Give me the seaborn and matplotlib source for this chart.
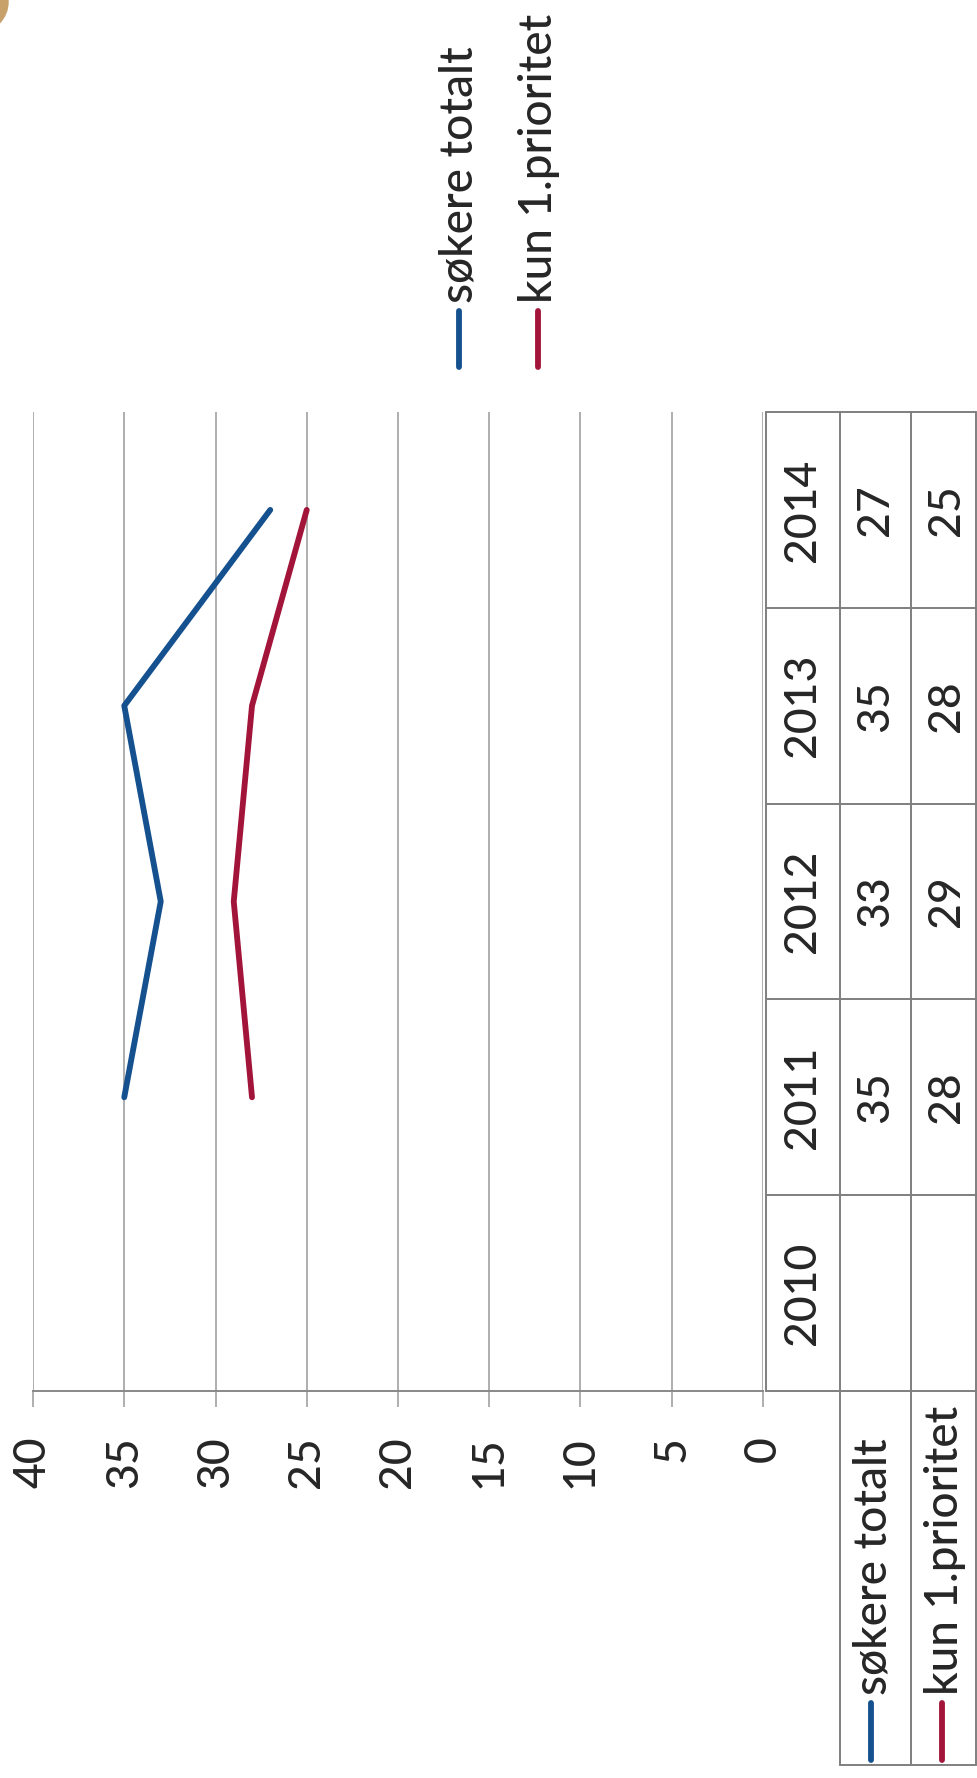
import numpy as np
import pandas as pd
import matplotlib.pyplot as plt
import seaborn as sns
from matplotlib.lines import Line2D
from matplotlib.patches import Ellipse

# Data
years = ["2010", "2011", "2012", "2013", "2014"]
sokere_totalt = [np.nan, 35, 33, 35, 27]
kun_1_prioritet = [np.nan, 28, 29, 28, 25]
series_names = ["søkere totalt", "kun 1.prioritet"]
colors = ["#15508f", "#a3143a"]
value_ticks = [0, 5, 10, 15, 20, 25, 30, 35, 40]

sns.set_style("white")
plt.rcParams["font.family"] = ["Lato", "DejaVu Sans"]
plt.rcParams["font.weight"] = 500

W, H = 978, 1778


def fx(x):
    return x / W


def fy(y):
    return 1 - y / H


fig = plt.figure(figsize=(W / 100, H / 100), dpi=100)

# plot area (chart is rotated 90 degrees: value axis runs horizontally)
left, right, top, bottom = 33, 763, 412, 1391
ax = fig.add_axes([fx(left), fy(bottom), fx(right - left), (bottom - top) / H])

df = pd.DataFrame({
    "år": years * 2,
    "serie": [series_names[0]] * 5 + [series_names[1]] * 5,
    "verdi": sokere_totalt + kun_1_prioritet,
})
df["pos"] = df["år"].map({y: i for i, y in enumerate(years)})

sns.lineplot(data=df, x="verdi", y="pos", hue="serie", palette=colors,
             orient="y", estimator=None, legend=False, lw=4.2,
             solid_capstyle="round", ax=ax)

ax.set_xlim(40, 0)
ax.set_ylim(-0.5, len(years) - 0.5)
ax.set_xticks(value_ticks)
ax.set_xticklabels([str(v) for v in value_ticks], rotation=90, fontsize=32)
ax.set_yticks([])
ax.set_xlabel("")
ax.set_ylabel("")
ax.grid(axis="x", color="#999999", lw=1.1)
ax.grid(axis="y", visible=False)
for s in ["top", "left", "right"]:
    ax.spines[s].set_visible(False)
ax.spines["bottom"].set_color("#888888")
ax.spines["bottom"].set_linewidth(1.4)
ax.tick_params(axis="x", direction="out", length=11.5, width=1.1,
               color="#999999", pad=21, bottom=True)

# data table
line_kw = dict(color="#7f7f7f", lw=1.4)
tab_left, row1, row2, tab_right, tab_bottom = 766, 840, 911, 976, 1765
cell_h = (bottom - top) / len(years)


def hline(x0, x1, y):
    fig.add_artist(Line2D([fx(x0), fx(x1)], [fy(y), fy(y)], **line_kw))


def vline(x, y0, y1):
    fig.add_artist(Line2D([fx(x), fx(x)], [fy(y0), fy(y1)], **line_kw))


for k in range(len(years) + 1):
    hline(tab_left, tab_right, top + k * cell_h)
vline(tab_left, top, bottom)
vline(row1, top, tab_bottom)
vline(row2, top, tab_bottom)
vline(tab_right, top, tab_bottom)
hline(row1, tab_right, tab_bottom)

txt_kw = dict(rotation=90, ha="center", va="center", fontsize=32)
for i, yr in enumerate(years):
    yc = bottom - (i + 0.5) * cell_h
    fig.text(fx(803), fy(yc), yr, **txt_kw)
    for xc, vals in [(876, sokere_totalt), (947, kun_1_prioritet)]:
        if not np.isnan(vals[i]):
            fig.text(fx(xc), fy(yc), f"{vals[i]:.0f}", **txt_kw)

# row headers with legend keys
for xc, name, c in [(874, series_names[0], colors[0]), (945, series_names[1], colors[1])]:
    fig.add_artist(Line2D([fx(xc - 3), fx(xc - 3)], [fy(1760), fy(1703)], color=c,
                          lw=4.2, solid_capstyle="round"))
    fig.text(fx(xc), fy(1695), name, rotation=90, rotation_mode="anchor",
             ha="left", va="center", fontsize=33)

# legend at top
for xc, name, c in [(460, series_names[0], colors[0]), (539, series_names[1], colors[1])]:
    fig.add_artist(Line2D([fx(xc - 1), fx(xc - 1)], [fy(367), fy(311)], color=c,
                          lw=4.2, solid_capstyle="round"))
    fig.text(fx(xc), fy(303), name, rotation=90, rotation_mode="anchor",
             ha="left", va="center", fontsize=33)

# scanned page artefact in the corner
fig.add_artist(Ellipse((fx(-22), fy(2)), 60 / W, 60 / H, color="#c7a06a"))

plt.savefig("out.png", dpi=100)
